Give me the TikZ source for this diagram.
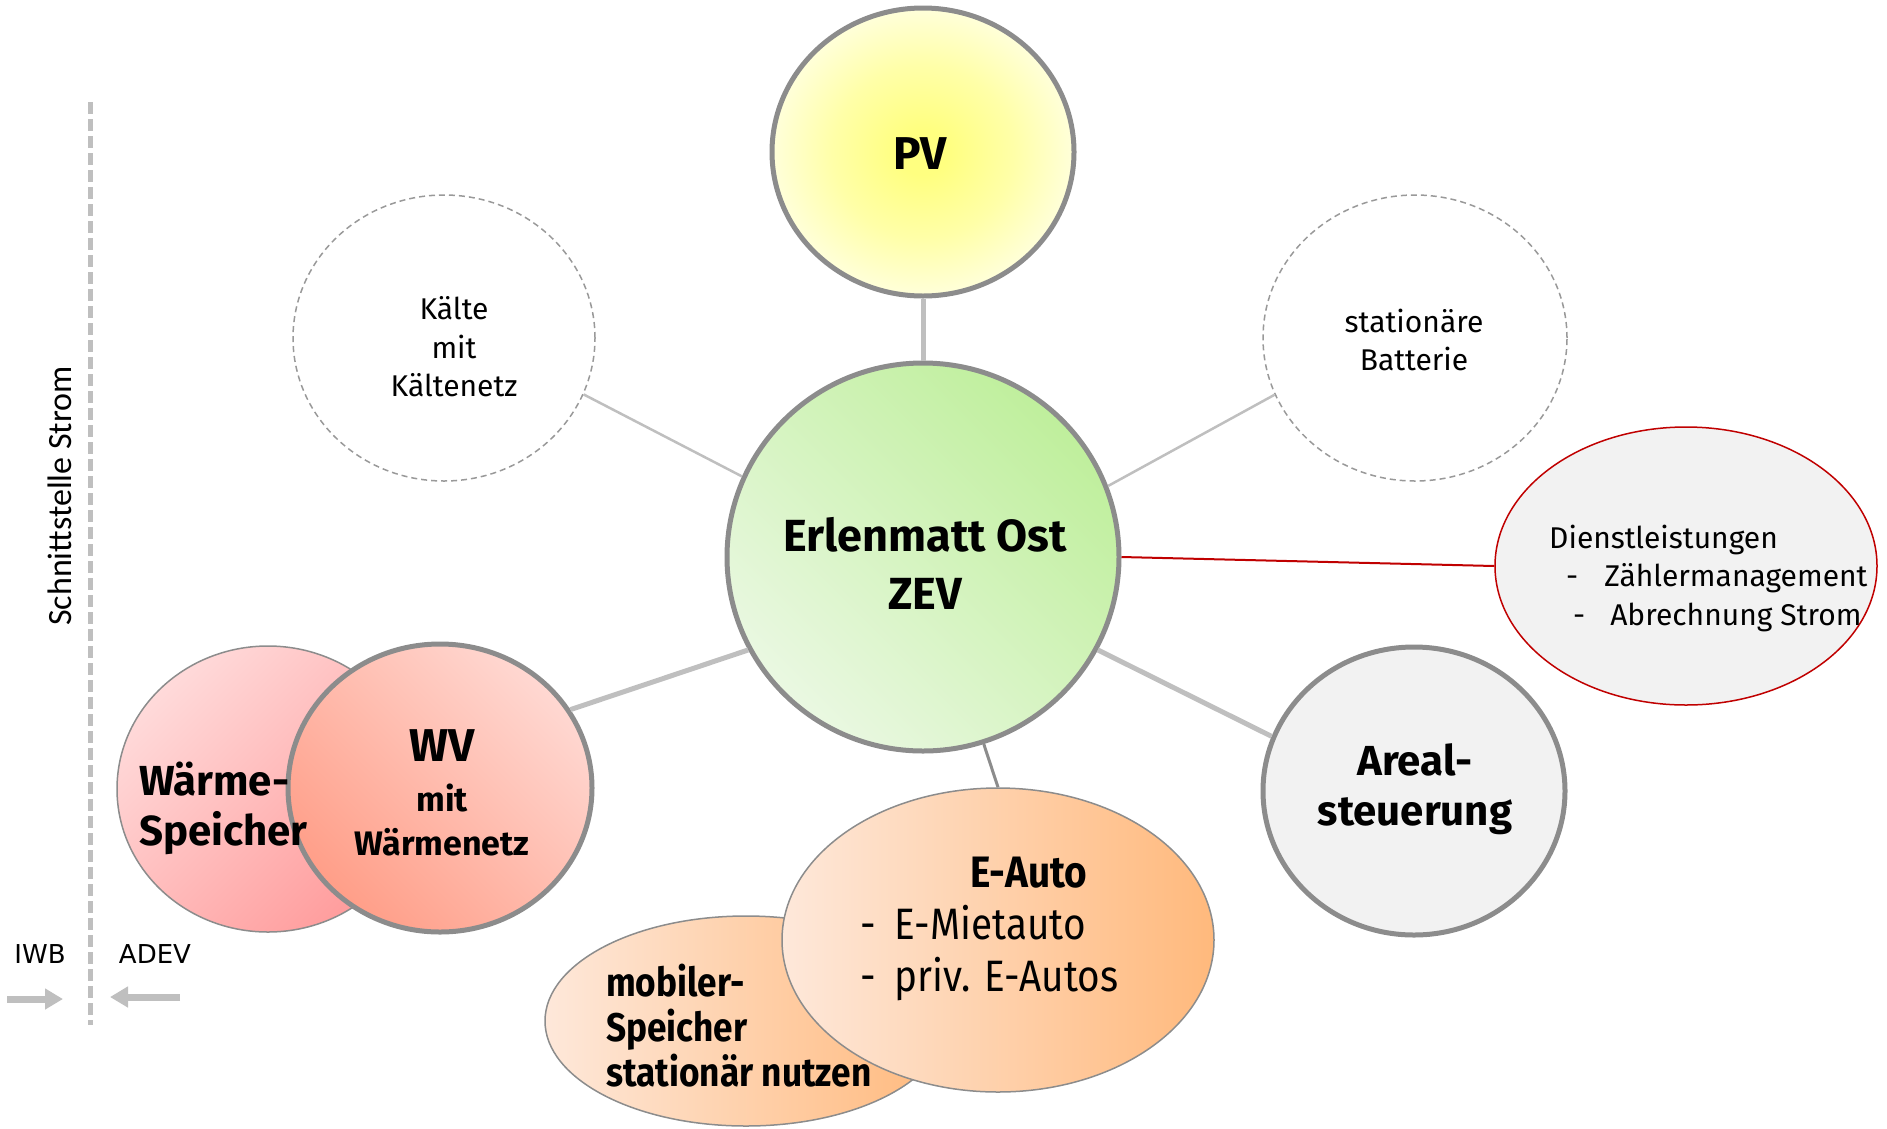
\documentclass[tikz,border=0pt]{standalone}
\usepackage{fontspec}
\setmainfont{Fira Sans}
\newfontfamily\condf[FakeStretch=0.88]{Fira Sans}
\newfontfamily\carl{Carlito}
\newfontfamily\djv{DejaVu Sans}
\usetikzlibrary{shapes.geometric,arrows.meta}
\definecolor{bord}{HTML}{8C8C8C}
\definecolor{conn}{HTML}{BFBFBF}
\definecolor{redc}{HTML}{C00000}
\definecolor{dashg}{HTML}{999999}
\definecolor{greyfill}{HTML}{F2F2F2}
\definecolor{pvin}{HTML}{FFFF80}
\definecolor{pvmid}{HTML}{FFFFA8}
\definecolor{pvout}{HTML}{FFFFDA}
\definecolor{cgtop}{HTML}{BFEF9C}
\definecolor{cgbot}{HTML}{EAF8E2}
\definecolor{wvtop}{HTML}{FFD8D2}
\definecolor{wvbot}{HTML}{FF9E88}
\definecolor{wstop}{HTML}{FFDADA}
\definecolor{wsbot}{HTML}{FF9C9C}
\definecolor{eal}{HTML}{FEE8DA}
\definecolor{ear}{HTML}{FFB97C}
\newcommand\fs[2]{\fontsize{#1}{#2}\selectfont}
\pgfdeclareradialshading{pvshade}{\pgfpoint{0bp}{0bp}}{color(0bp)=(pvin); color(4bp)=(pvin); color(15bp)=(pvmid); color(25bp)=(pvout); color(50bp)=(pvout)}
\begin{document}
\begin{tikzpicture}[x=1pt,y=-1pt,
  blob/.style={ellipse, inner sep=0pt},
  wh/.style 2 args={minimum width=#1pt, minimum height=#2pt},
  thickborder/.style={draw=bord, line width=5pt},
  thinborder/.style={draw=bord, line width=1.5pt},
  dashcirc/.style={blob, draw=dashg, line width=1.5pt, dash pattern=on 6pt off 4pt},
  lbl/.style={inner sep=0pt, align=center, text=black},
  linkthick/.style={draw=conn, line width=5pt},
  linkthin/.style={draw=conn, line width=2.5pt},
  garrow/.style={draw=conn, line width=7pt, -{Triangle[length=18pt,width=20pt]}},
]
\useasboundingbox (0,0) rectangle (1887,1128);
% left interface
\coordinate (d1) at (90,102);
\coordinate (d2) at (90,1025);
\draw[draw=conn, line width=5pt, dash pattern=on 12pt off 5pt] (d1) -- (d2);
\node[lbl, rotate=90, font=\carl\fs{34}{34}] (ts) at (60,496) {Schnittstelle Strom};
\node[lbl, font=\djv\fs{26}{26}] (tiwb) at (40,954) {IWB};
\node[lbl, font=\djv\fs{26}{26}] (tadev) at (155,954) {ADEV};
\coordinate (i1) at (7,999);
\coordinate (i2) at (63,999);
\coordinate (a1) at (180,997);
\coordinate (a2) at (110,997);
\draw[garrow] (i1) -- (i2);
\draw[garrow] (a1) -- (a2);

% shapes
\node[blob, wh={302}{288}, thickborder, shading=pvshade] (pv) at (923,152) {};
\node[blob, wh={392}{388}, thickborder, top color=cgtop, bottom color=cgbot, shading angle=-45] (c) at (923,557) {};
\node[dashcirc, wh={302}{286}] (k) at (444,338) {};
\node[dashcirc, wh={304}{286}] (bat) at (1415,338) {};
\node[blob, wh={382}{278}, draw=redc, line width=1.5pt, fill=greyfill] (dl) at (1686,566) {};
\node[blob, wh={302}{288}, thickborder, fill=greyfill] (ar) at (1414,791) {};
\node[blob, wh={302}{286}, thinborder, top color=wstop, bottom color=wsbot, shading angle=45] (ws) at (268,789) {};
\node[blob, wh={304}{288}, thickborder, top color=wvtop, bottom color=wvbot, shading angle=-45] (wv) at (440,788) {};
\node[blob, wh={402}{210}, thinborder, left color=eal, right color=ear] (ms) at (746,1021) {};
\node[blob, wh={432}{304}, thinborder, left color=eal, right color=ear] (ea) at (998,940) {};

% connectors
\draw[linkthick] (pv.south) -- (c.north);
\draw[linkthin] (c.156) -- (k.338);
\draw[linkthin] (c.21) -- (bat.202);
\draw[draw=redc, line width=2pt] (c.east) -- (dl.west);
\draw[linkthick] (c.332) -- (ar.159);
\draw[linkthick] (c.208) -- (wv.31);
\draw[draw=bord, line width=3pt] (c.288) -- (ea.north);

% texts
\node[lbl, font=\fs{46}{55}\bfseries] (tpv) at (920,154) {PV};
\node[lbl, font=\fs{45}{58}\bfseries] (tc) at (925,563) {Erlenmatt Ost\\ZEV};
\node[lbl, font=\fs{30}{38.5}] (tk) at (454,347) {Kälte\\mit\\Kältenetz};
\node[lbl, font=\fs{30}{38.5}] (tb) at (1414,340) {stationäre\\Batterie};
\node[lbl, align=left, anchor=west, font=\fs{30}{38.5}] (tdl) at (1549,578)
  {Dienstleistungen\\\hspace*{17pt}-\hspace*{26pt}Zählermanagement\\\hspace*{24pt}-\hspace*{25pt}Abrechnung Strom};
\node[lbl, font=\fs{34}{44}\bfseries] (twv) at (442,793) {{\fs{46}{46}\bfseries WV}\\[6pt]mit\\Wärmenetz};
\node[lbl, align=left, anchor=west, font=\fs{42}{50}\bfseries] (tws) at (139,808) {Wärme-\\Speicher};
\node[lbl, font=\fs{42}{50}\bfseries] (ta) at (1415,789) {Areal-\\steuerung};
\node[lbl, align=left, anchor=west, font=\condf\fs{44}{52}] (tea) at (860,929)
  {\hspace*{110pt}{\bfseries E-Auto}\\-\hspace*{19pt}E-Mietauto\\-\hspace*{19pt}priv. E-Autos};
\node[lbl, align=left, anchor=west, font=\condf\fs{40}{45}\bfseries] (tms) at (606,1026)
  {mobiler-\\Speicher\\stationär nutzen};
\end{tikzpicture}
\end{document}
